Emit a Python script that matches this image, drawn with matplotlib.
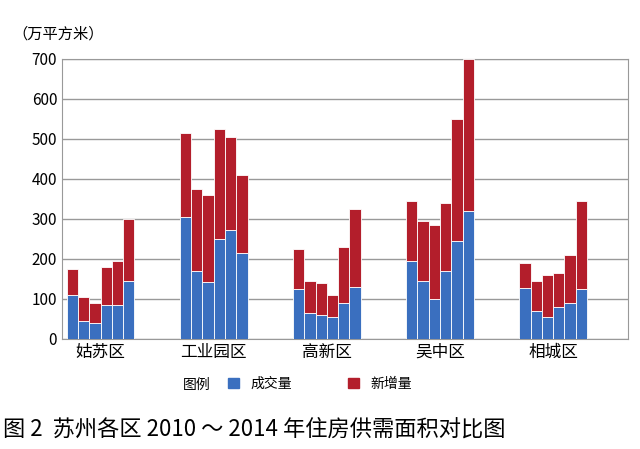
import matplotlib
matplotlib.use("Agg")
import matplotlib.pyplot as plt
import numpy as np

plt.rcParams['font.family'] = 'Noto Sans CJK SC'

districts = ["姑苏区", "工业园区", "高新区", "吴中区", "相城区"]
deal = [[110, 45, 40, 86, 85, 145],
        [305, 170, 142, 250, 273, 215],
        [125, 64, 60, 55, 90, 131],
        [196, 146, 100, 170, 246, 319],
        [127, 70, 56, 81, 90, 125]]
total = [[175, 104, 90, 180, 195, 300],
         [514, 375, 360, 524, 504, 409],
         [224, 144, 140, 109, 229, 325],
         [344, 294, 284, 339, 549, 700],
         [190, 145, 160, 165, 210, 344]]

blue = "#3a6fbf"
red = "#b31e2b"

fig = plt.figure(figsize=(6.4, 4.49), dpi=100)
ax = fig.add_axes([0.097, 0.245, 0.884, 0.624])
w = 0.1
for i in range(len(districts)):
    for j in range(6):
        x = i + (j - 2.5) * w
        d = deal[i][j]
        n = total[i][j] - d
        ax.bar(x, d, w, color=blue, edgecolor="white", linewidth=0.6, zorder=3)
        ax.bar(x, n, w, bottom=d, color=red, edgecolor="white", linewidth=0.6, zorder=3)
ax.set_xlim(-0.34, 4.66)
ax.set_ylim(0, 700)
ax.set_yticks(range(0, 701, 100))
ax.set_xticks(range(5))
ax.set_xticklabels(districts, fontsize=12)
ax.tick_params(axis='both', length=0, labelsize=11)
ax.tick_params(axis='x', labelsize=12)
ax.grid(axis='y', color="#999999", linewidth=1, zorder=0)
for s in ax.spines.values():
    s.set_color("#999999")
fig.text(0.02, 0.915, "（万平方米）", fontsize=11)

from matplotlib.patches import Patch
fig.text(0.285, 0.135, "图例", fontsize=10)
leg = fig.legend(handles=[Patch(color=blue, label="成交量"), Patch(color=red, label="新增量")],
                 loc="center", bbox_to_anchor=(0.50, 0.145), ncol=2, frameon=False,
                 fontsize=10, handlelength=0.8, handleheight=0.8, columnspacing=4)
fig.text(0.005, 0.03, "图 2  苏州各区 2010 ～ 2014 年住房供需面积对比图", fontsize=16)
fig.savefig("out.png", dpi=100)
